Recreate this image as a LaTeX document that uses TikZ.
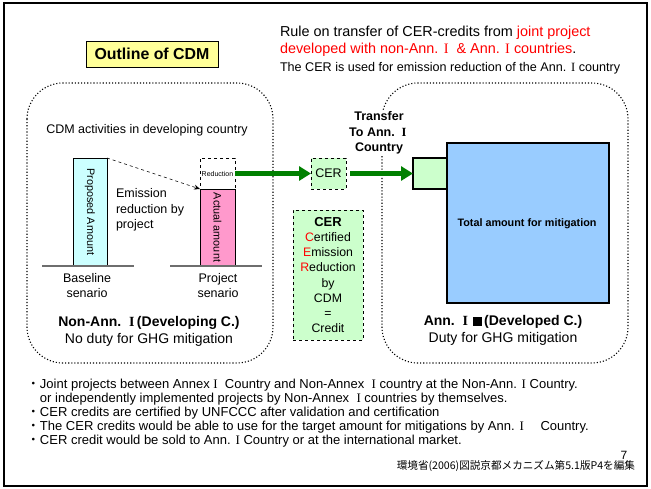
\documentclass[tikz,border=0pt]{standalone}
\usepackage{fontspec}
\setmainfont{Liberation Sans}
\newfontfamily\jpfont{Noto Sans CJK JP}
\newfontfamily\romfont{Liberation Serif}
\usetikzlibrary{arrows.meta}

\definecolor{titleyellow}{HTML}{FFFF99}
\definecolor{cyanbar}{HTML}{CCFFFF}
\definecolor{pinkbar}{HTML}{FF99CC}
\definecolor{paleGreen}{HTML}{CCFFCC}
\definecolor{skyblue}{HTML}{99CCFF}
\definecolor{arrowgreen}{HTML}{008000}
\definecolor{groundgray}{HTML}{6E6E6E}

% Roman numeral one, set in a serif face
\newcommand{\romI}{{\romfont I}}
% full-width Roman numeral one, as in the country labels
\newcommand{\wideI}{\makebox[0.75em]{\romfont\bfseries I}}
\newcommand{\fsz}[2]{\fontsize{#1}{#2}\selectfont}

\begin{document}
\begin{tikzpicture}[x=1pt,y=-1pt,
  every node/.style={inner sep=0pt, outer sep=0pt},
  titlebox/.style={draw=black, line width=0.8pt, fill=titleyellow},
  dotbox/.style={dotted, line width=1.1pt, rounded corners=36pt},
  barbox/.style={draw=black, line width=0.8pt},
  greenbox/.style={draw=black, dashed, line width=0.6pt, fill=paleGreen},
  solidbox/.style={draw=black, line width=1.3pt},
  ground/.style={draw=groundgray, line width=1.3pt},
  garrow/.style={draw=arrowgreen, line width=4.5pt,
    -{Triangle[length=12pt,width=14pt]}},
  body/.style={font=\fsz{12.5}{15.5}},
  label/.style={font=\fsz{14}{16}},
  bullet/.style={anchor=west, font=\fsz{13}{14}},
]
\useasboundingbox (0,0) rectangle (651,488);

% slide frame
\draw[line width=2pt] (4,3) rectangle (647,486);

% heading
\node[titlebox, minimum width=132pt, minimum height=26pt] (title) at (152,54)
  {\fsz{15.9}{18}\bfseries Outline of CDM};

\node[anchor=west, font=\fsz{14.4}{16}] (rule1) at (280,33)
  {Rule on transfer of CER-credits from \textcolor{red}{joint project}};
\node[anchor=west, font=\fsz{14.4}{16}] (rule2) at (280,50)
  {\textcolor{red}{developed with non-Ann. \romI{} \ \& Ann. \romI{} countries}.};
\node[anchor=west, font=\fsz{12.6}{14}] (rule3) at (280,68)
  {The CER is used for emission reduction of the Ann. \romI{} country};

% the two country areas
\draw[dotbox] (27,83) rectangle (273,363);
\draw[dotbox] (382,83) rectangle (628,363);

\node[fill=white, inner sep=2pt, align=center, font=\fsz{12.5}{15.5}\bfseries]
  (transfer) at (379,133) {Transfer\\To Ann. \wideI\\Country};

% developing country side
\node[body] (activities) at (147,130) {CDM activities in developing country};

\node[barbox, fill=cyanbar, minimum width=34pt, minimum height=108pt]
  (proposed) at (90,212) {};
\node[rotate=-90, font=\fsz{10.8}{12}] (proposedtxt) at (proposed.center)
  {Proposed Amount};
\draw[ground] (42,266) -- (134,266);

\node[barbox, dashed, fill=white, minimum width=35pt, minimum height=31pt]
  (reduction) at (217.5,173.5) {\fsz{7}{8}Reduction};
\node[barbox, fill=pinkbar, minimum width=35pt, minimum height=77pt]
  (actual) at (217.5,227.5) {};
\node[rotate=-90, font=\fsz{10.8}{12}] (actualtxt) at (actual.center)
  {Actual amount};
\draw[ground] (170,266) -- (262,266);

\draw[dashed, line width=0.6pt, -{Stealth[length=6pt,width=5pt]}]
  (proposed.north east) -- (actual.north west);

\node[body, anchor=west, align=left] (emission) at (116,210)
  {Emission\\reduction by\\project};

\node[body, align=center] (baseline) at (87,285.5) {Baseline\\senario};
\node[body, align=center] (projsc) at (218,285.5) {Project\\senario};

\node[font=\fsz{14}{16}\bfseries] (nonann) at (149,323)
  {Non-Ann. \wideI(Developing C.)};
\node[label] (noduty) at (149,340) {No duty for GHG mitigation};

% credits
\node[greenbox, minimum width=35pt, minimum height=31pt] (cer) at (328.5,173.5)
  {\fsz{12.5}{14}CER};

\node[greenbox, minimum width=70pt, minimum height=130pt, align=center,
  font=\fsz{12.3}{15.1}] (cerdef) at (328,275)
  {{\fsz{13}{15.1}\bfseries CER}\\
   \textcolor{red}{C}ertified\\
   \textcolor{red}{E}mission\\
   \textcolor{red}{R}eduction\\
   by\\CDM\\=\\Credit};

% developed country side
\node[solidbox, fill=skyblue, minimum width=162pt, minimum height=160pt]
  (total) at (528,223) {};
\node[font=\fsz{10.8}{12}\bfseries] (totaltxt) at (527,224)
  {Total amount for mitigation};
\node[solidbox, fill=paleGreen, minimum width=34pt, minimum height=31pt]
  (credit) at (430,173.5) {};

\draw[garrow] (reduction.east) -- (cer.west);
\draw[garrow] ([xshift=4pt]cer.east) -- (credit.west);

\node[font=\fsz{14}{16}\bfseries] (ann) at (503,322)
  {Ann. \wideI\,\rule[-0.5pt]{9pt}{9.5pt}\,(Developed C.)};
\node[label] (duty) at (503,339) {Duty for GHG mitigation};

% notes
\node[bullet] (b1) at (27,385)
  {{\jpfont ・}Joint projects between Annex \romI{} \ Country and Non-Annex \ \romI{} country at the Non-Ann. \romI{} Country.};
\node[bullet] (b2) at (27,399)
  {\phantom{{\jpfont ・}}or independently implemented projects by Non-Annex \ \romI{} countries by themselves.};
\node[bullet] (b3) at (27,413)
  {{\jpfont ・}CER credits are certified by UNFCCC after validation and certification};
\node[bullet] (b4) at (27,427)
  {{\jpfont ・}The CER credits would be able to use for the target amount for mitigations by Ann. \romI{} \quad Country.};
\node[bullet] (b5) at (27,441)
  {{\jpfont ・}CER credit would be sold to Ann. \romI{} Country or at the international market.};

\node[font=\fsz{12}{13}] (pagenum) at (624,455) {7};
\node[anchor=east, font=\fsz{10.6}{12}\jpfont] (source) at (635,466)
  {環境省(2006)図説京都メカニズム第5.1版P4を編集};
\end{tikzpicture}
\end{document}
